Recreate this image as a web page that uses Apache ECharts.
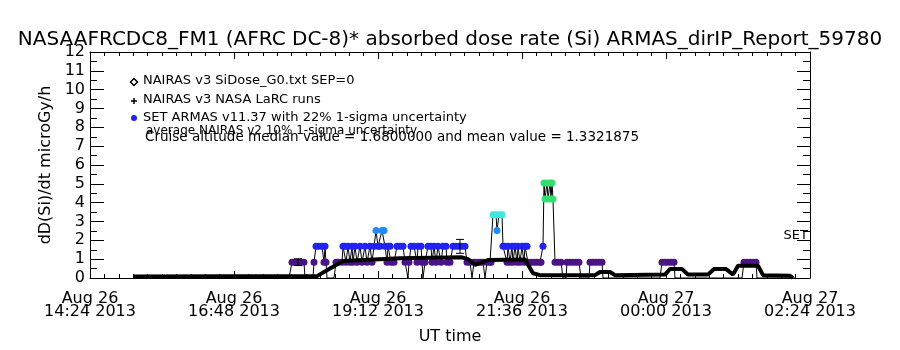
<!DOCTYPE html>
<html><head><meta charset="utf-8">
<script src="https://cdn.jsdelivr.net/npm/echarts@6/dist/echarts.min.js"></script>
<style>html,body{margin:0;padding:0;background:#fff}#c{width:900px;height:350px}</style>
</head><body><div id="c"></div>
<script>
const titleText = 'NASAAFRCDC8_FM1 (AFRC DC-8)* absorbed dose rate (Si) ARMAS_dirIP_Report_59780';
const yAxisTitle = 'dD(Si)/dt microGy/h';
const xAxisTitle = 'UT time';
// x axis: minutes after Aug 26 14:24 UT
const xTickDates = ['Aug 26', 'Aug 26', 'Aug 26', 'Aug 26', 'Aug 27', 'Aug 27'];
const xTickTimes = ['14:24 2013', '16:48 2013', '19:12 2013', '21:36 2013', '00:00 2013', '02:24 2013'];
const yTickLabels = ['0','1','2','3','4','5','6','7','8','9','10','11','12'];

const legendLabels = ['NAIRAS v3 SiDose_G0.txt SEP=0', 'NAIRAS v3 NASA LaRC runs', 'SET ARMAS v11.37 with 22% 1-sigma uncertainty'];
const noteLines = ['average NAIRAS v2 10% 1-sigma uncertainty', 'Cruise altitude median value = 1.6800000 and mean value = 1.3321875'];
const sideLabel = 'SET';

// NAIRAS v3 model dose rate
const nairasTime = [43, 227, 240, 253, 310, 372, 378, 385, 398, 435, 443, 450, 505, 510, 520, 525, 575, 580, 592, 598, 618, 624, 636, 643, 648, 668, 673, 700, 703];
const nairasDose = [0.08, 0.1, 0.5, 0.9, 1.05, 1.1, 1.0, 0.7, 0.95, 0.98, 0.25, 0.15, 0.15, 0.32, 0.32, 0.15, 0.18, 0.48, 0.48, 0.18, 0.18, 0.48, 0.48, 0.18, 0.65, 0.65, 0.15, 0.12, 0.0];

// ARMAS measured dose rate (quantized)
const armasTime = [43,199,202,205,208,211,214,215,223,224,226,229,232,234,235,236,237,244,246,248,
  252,253,255,256,258,260,262,263,265,267,270,272,275,277,280,282,284,286,288,290,292,294,295,297,298,300,301,
  304,307,310,313,315,318,319,321,324,327,328,331,332,333,335,
  338,341,342,344,346,348,351,353,356,357,
  360,363,366,369,372,375,377,380,382,384,387,390,393,395,397,400,
  401,403,406,407,409,412,413,415,417,418,420,422,423,425,427,428,430,432,434,435,437,438,
  441,444,447,450,451,453,454,455,457,458,460,461,462,463,465,468,471,473,
  476,477,480,483,486,489,491,499,500,503,506,509,512,513,
  570,572,575,578,581,584,585,652,654,657,660,663,666,667,705];
const armasDose = [0,0,0.84,0.84,0.84,0.84,0.84,0,0,0.84,1.68,1.68,1.68,0.84,1.68,0.84,0,0,0.84,0.84,
  0.84,1.68,1.68,0.84,1.68,0.84,1.68,0.84,1.68,0.84,1.68,0.84,1.68,0.84,1.68,0.84,1.68,2.52,1.68,1.68,2.52,2.52,1.68,0.84,1.68,1.68,0.84,
  0.84,1.68,1.68,1.68,0.84,0,0.84,1.68,1.68,0.84,1.68,1.68,0.84,0,0.84,
  1.68,1.68,0.84,1.68,0.84,1.68,0.84,1.68,1.68,0.84,
  0.84,1.68,1.68,1.68,1.68,1.68,0.84,0.84,0,0.84,0.84,0.84,0.84,0,0.84,0.84,
  0.84,3.36,3.36,2.52,3.36,3.36,1.68,1.68,0.84,1.68,0.84,1.68,0.84,1.68,0.84,1.68,0.84,1.68,0.84,1.68,1.68,0.84,
  0.84,0.84,0.84,0.84,0.84,1.68,5.04,4.2,5.04,4.2,5.04,4.2,5.04,4.2,0.84,0.84,0.84,0,
  0,0.84,0.84,0.84,0.84,0.84,0,0,0.84,0.84,0.84,0.84,0.84,0,
  0,0.84,0.84,0.84,0.84,0.84,0,0,0.84,0.84,0.84,0.84,0.84,0,0];

// representative uncertainty bars
const errTime = [208, 370];
const errLow = [0.66, 1.31];
const errHigh = [1.02, 2.05];

const levelValues = [0.84, 1.68, 2.52, 3.36, 4.2, 5.04];
const levelColors = ['#4a1486', '#2222f5', '#1e8cff', '#3ee8e0', '#2ee070', '#2ee070'];
function colorFor(v) {
  if (v <= 0) return '#000';
  let best = 0;
  for (let i = 0; i < levelValues.length; i++) if (Math.abs(levelValues[i] - v) < Math.abs(levelValues[best] - v)) best = i;
  return levelColors[best];
}

const FONT = 'DejaVu Sans';
const chart = echarts.init(document.getElementById('c'), null, {renderer: 'canvas'});
const gridBox = {left: 90, right: 90, top: 52, bottom: 71};

function xAxisDef(pos, major) {
  return {
    type: 'value', min: 0, max: 720, interval: 144, position: pos,
    axisLine: {onZero: false, lineStyle: {color: '#000', width: 1}},
    splitLine: {show: false},
    minorTick: {show: true, splitNumber: 10, length: 4, lineStyle: {color: '#000'}},
    axisTick: {inside: true, length: major, lineStyle: {color: '#000'}}
  };
}
function yAxisDef(pos, major) {
  return {
    type: 'value', min: 0, max: 12, interval: 1, position: pos,
    axisLine: {show: true, onZero: false, lineStyle: {color: '#000', width: 1}},
    splitLine: {show: false},
    minorTick: {show: true, splitNumber: 2, length: 7, lineStyle: {color: '#000'}},
    axisTick: {inside: true, length: major, lineStyle: {color: '#000'}}
  };
}

const xBottom = Object.assign(xAxisDef('bottom', 7), {
  name: xAxisTitle, nameLocation: 'middle', nameGap: 51,
  nameTextStyle: {fontFamily: FONT, fontSize: 16, color: '#000'},
  axisLabel: {
    margin: 14, color: '#000', fontFamily: FONT, fontSize: 16, lineHeight: 13,
    formatter: function (v) { const i = Math.round(v / 144); return xTickDates[i] + '\n' + xTickTimes[i]; }
  }
});
const xTop = Object.assign(xAxisDef('top', 7), {axisLabel: {show: false}});
const yLeft = Object.assign(yAxisDef('left', 14), {
  name: yAxisTitle, nameLocation: 'middle', nameGap: 36, nameRotate: 90,
  nameTextStyle: {fontFamily: FONT, fontSize: 16, color: '#000'},
  axisLabel: {margin: 5, color: '#000', fontFamily: FONT, fontSize: 16,
    formatter: function (v) { return yTickLabels[Math.round(v)]; }}
});
const yRight = Object.assign(yAxisDef('right', 13), {axisLabel: {show: false}});

chart.setOption({
  animation: false,
  backgroundColor: '#fff',
  title: {
    text: titleText, left: 'center', top: 25,
    textStyle: {fontFamily: FONT, fontSize: 20, fontWeight: 'normal', color: '#000'}
  },
  grid: gridBox,
  xAxis: [xBottom, xTop],
  yAxis: [yLeft, yRight],
  series: [
    {
      type: 'line', name: 'ARMAS', z: 2,
      data: armasTime.map((t, i) => [t, armasDose[i]]),
      lineStyle: {color: '#000', width: 1},
      showSymbol: true, symbol: 'circle',
      symbolSize: function (val) { return val[1] > 0 ? 7 : 0; },
      itemStyle: {color: function (p) { return colorFor(p.value[1]); }},
      emphasis: {disabled: true}
    },
    {
      type: 'line', name: 'NAIRAS', z: 3,
      data: nairasTime.map((t, i) => [t, nairasDose[i]]),
      lineStyle: {color: '#000', width: 4},
      showSymbol: false, symbol: 'none',
      emphasis: {disabled: true}
    },
    {
      type: 'custom', name: 'uncertainty', z: 4,
      data: errTime.map((t, i) => [t, errLow[i], errHigh[i]]),
      renderItem: function (params, api) {
        const lo = api.coord([api.value(0), api.value(1)]);
        const hi = api.coord([api.value(0), api.value(2)]);
        const st = {stroke: '#000', lineWidth: 1};
        return {type: 'group', children: [
          {type: 'line', shape: {x1: lo[0], y1: lo[1], x2: hi[0], y2: hi[1]}, style: st},
          {type: 'line', shape: {x1: hi[0] - 4, y1: hi[1], x2: hi[0] + 4, y2: hi[1]}, style: st},
          {type: 'line', shape: {x1: lo[0] - 4, y1: lo[1], x2: lo[0] + 4, y2: lo[1]}, style: st}
        ]};
      }
    }
  ],
  graphic: [
    {type: 'polygon', shape: {points: [[134, 78.5], [137.5, 82], [134, 85.5], [130.5, 82]]}, style: {fill: '#fff', stroke: '#000', lineWidth: 1.5}},
    {type: 'line', shape: {x1: 131, y1: 101, x2: 137, y2: 101}, style: {stroke: '#000', lineWidth: 1.5}},
    {type: 'line', shape: {x1: 134, y1: 98, x2: 134, y2: 104}, style: {stroke: '#000', lineWidth: 1.5}},
    {type: 'circle', shape: {cx: 134, cy: 118, r: 3}, style: {fill: '#2222f5'}},
    {type: 'text', x: 143, y: 80.5, style: {text: legendLabels[0], font: '13px "DejaVu Sans"', fill: '#000', verticalAlign: 'middle'}},
    {type: 'text', x: 143, y: 99.5, style: {text: legendLabels[1], font: '13px "DejaVu Sans"', fill: '#000', verticalAlign: 'middle'}},
    {type: 'text', x: 143, y: 118, style: {text: legendLabels[2], font: '13px "DejaVu Sans"', fill: '#000', verticalAlign: 'middle'}},
    {type: 'text', x: 146, y: 131, style: {text: noteLines[0], font: '12px "DejaVu Sans"', fill: '#000', verticalAlign: 'middle'}},
    {type: 'text', x: 145, y: 137, style: {text: noteLines[1], font: '13.5px "DejaVu Sans"', fill: '#000', verticalAlign: 'middle'}},
    {type: 'text', x: 808, y: 236, style: {text: sideLabel, font: '13px "DejaVu Sans"', fill: '#000', align: 'right', verticalAlign: 'middle'}}
  ]
});
</script></body></html>
